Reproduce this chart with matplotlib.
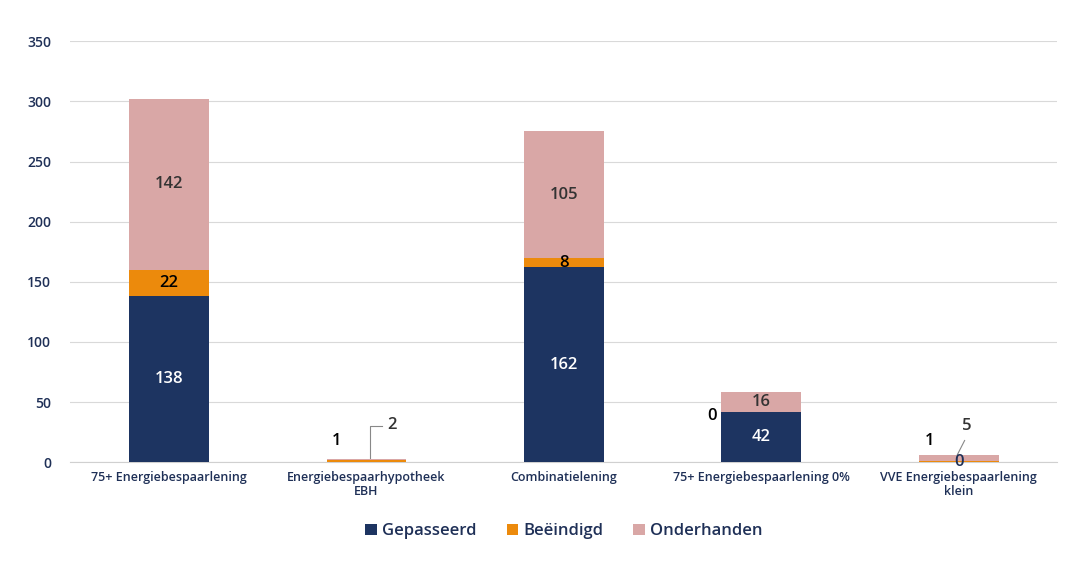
import matplotlib.pyplot as plt
import numpy as np

plt.rcParams['font.family'] = ['Open Sans', 'DejaVu Sans']
plt.rcParams['font.weight'] = 'semibold'

categories = ['75+ Energiebespaarlening', 'Energiebespaarhypotheek\nEBH', 'Combinatielening',
              '75+ Energiebespaarlening 0%', 'VVE Energiebespaarlening\nklein']
gepasseerd = [138, 0, 162, 42, 0]
beeindigd = [22, 2, 8, 0, 1]
onderhanden = [142, 1, 105, 16, 5]

navy = '#1d3461'
orange = '#ec8a0c'
pink = '#d9a7a6'
tick_col = '#1f3057'

fig = plt.figure(figsize=(10.67, 5.65), dpi=100)
ax = fig.add_axes([0.066, 0.182, 0.925, 0.745])

x = np.arange(len(categories))
w = 0.405
g = np.array(gepasseerd)
b = np.array(beeindigd)
o = np.array(onderhanden)
ax.bar(x, g, w, color=navy, label='Gepasseerd', zorder=3)
ax.bar(x, b, w, bottom=g, color=orange, label='Beëindigd', zorder=3)
ax.bar(x, o, w, bottom=g + b, color=pink, label='Onderhanden', zorder=3)

# labels inside the larger segments
for i in range(len(x)):
    if g[i] >= 20:
        ax.text(x[i], g[i] / 2, str(g[i]), ha='center', va='center', color='white', fontsize=12, zorder=4)
    if b[i] >= 5:
        ax.text(x[i], g[i] + b[i] / 2, str(b[i]), ha='center', va='center', color='black', fontsize=12, zorder=4)
    if o[i] >= 10:
        ax.text(x[i], g[i] + b[i] + o[i] / 2, str(o[i]), ha='center', va='center', color='#333333', fontsize=12, zorder=4)

# small segments: labels outside the bar
ax.text(x[1] - 0.15, 18, str(o[1]), ha='center', va='center', fontsize=12, color='black')
ax.plot([x[1] + 0.02, x[1] + 0.02, x[1] + 0.08], [b[1] + 1, 30, 30], color='#888888', lw=0.8)
ax.text(x[1] + 0.13, 31, str(b[1]), ha='center', va='center', fontsize=12, color='#333333', fontweight='semibold')
ax.text(x[3] - 0.25, 38, str(b[3]), ha='center', va='center', fontsize=12, color='black')
ax.text(x[4] - 0.15, 18, str(b[4]), ha='center', va='center', fontsize=12, color='black')
ax.plot([x[4] - 0.02, x[4] + 0.03], [2, 18], color='#888888', lw=0.8)
ax.text(x[4] + 0.04, 30, str(o[4]), ha='center', va='center', fontsize=12, color='#333333', fontweight='semibold')
ax.text(x[4], 0, str(g[4]), ha='center', va='center', fontsize=12, color=tick_col, zorder=5)

ax.set_ylim(0, 350)
ax.set_xlim(-0.5, len(x) - 0.5)
ax.set_yticks(range(0, 351, 50))
ax.set_xticks(x)
ax.set_xticklabels(categories, fontsize=9, color=tick_col, linespacing=1.1)
ax.tick_params(axis='y', labelsize=10, colors=tick_col, length=0, pad=14)
ax.tick_params(axis='x', length=0, pad=6)
ax.grid(axis='y', color='#d9d9d9', lw=0.8, zorder=0)
for s in ['top', 'right', 'left']:
    ax.spines[s].set_visible(False)
ax.spines['bottom'].set_color('#d0d0d0')

ax.legend(loc='upper center', bbox_to_anchor=(0.5, -0.11), ncol=3, frameon=False, fontsize=12,
          handlelength=0.7, handleheight=0.7, handletextpad=0.3, columnspacing=1.8,
          labelcolor=tick_col)

fig.savefig('out.png', dpi=100)
